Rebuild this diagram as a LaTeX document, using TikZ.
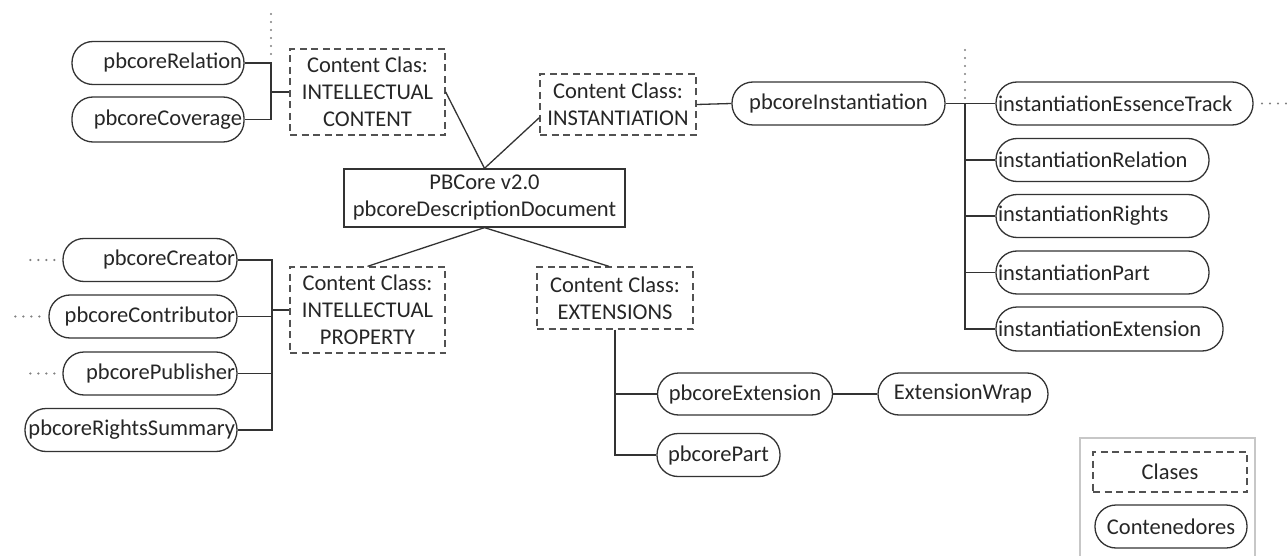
\documentclass[tikz,border=0pt]{standalone}
\usepackage{fontspec}
\setmainfont{Carlito}
\begin{document}
\begin{tikzpicture}[x=1pt, y=-1pt,
  font=\fontsize{22.5}{27}\selectfont,
  linec/.style={draw=black!80},
  pill/.style={linec, line width=1.3pt, rounded corners=21pt, minimum height=43pt,
    inner xsep=2pt, inner ysep=0pt, text=black!85},
  clase/.style={draw=black!68, line width=1.3pt, dash pattern=on 7pt off 4.5pt,
    align=center, inner sep=0pt, text=black!85},
  docbox/.style={linec, line width=1.3pt, align=center, inner sep=0pt, text=black!85},
  conn/.style={draw=black!80, line width=1.3pt},
  dots/.style={draw=black!50, line width=2.4pt, line cap=round, dash pattern=on 0pt off 8pt},
  legendframe/.style={draw=black!22, line width=2pt}]

\useasboundingbox (0,0) rectangle (1287,556);

% root document
\node[docbox, minimum width=281pt, minimum height=58pt] (doc) at (484.5,198)
  {PBCore v2.0\\pbcoreDescriptionDocument};

% content classes
\node[clase, minimum width=155pt, minimum height=86pt] (ic) at (367.5,92)
  {Content Clas:\\INTELLECTUAL\\CONTENT};
\node[clase, minimum width=156pt, minimum height=61pt] (inst) at (618,104.5)
  {Content Class:\\INSTANTIATION};
\node[clase, minimum width=155pt, minimum height=86pt] (ip) at (367.5,310)
  {Content Class:\\INTELLECTUAL\\PROPERTY};
\node[clase, minimum width=156pt, minimum height=62pt] (extc) at (615,298)
  {Content Class:\\EXTENSIONS};

% intellectual content containers
\node[pill, text width=168pt, align=right] (rel) at (158,63) {pbcoreRelation};
\node[pill, text width=168pt, align=right, minimum height=45pt] (cov) at (158,119.5) {pbcoreCoverage};

% intellectual property containers
\node[pill, text width=170pt, align=right] (creator) at (150,260) {pbcoreCreator};
\node[pill, text width=184pt, align=right] (contrib) at (143,316.5) {pbcoreContributor};
\node[pill, text width=170pt, align=right] (publ) at (150,373.5) {pbcorePublisher};
\node[pill, text width=208pt, align=right] (rights) at (131,430) {pbcoreRightsSummary};

% instantiation containers
\node[pill, text width=209pt, align=center] (pbi) at (838.5,103.5) {pbcoreInstantiation};
\node[pill, text width=253pt, align=left] (iet) at (1124.5,103.5) {instantiationEssenceTrack};
\node[pill, text width=209pt, align=left] (irel) at (1102.5,160) {instantiationRelation};
\node[pill, text width=209pt, align=left] (irig) at (1102.5,216) {instantiationRights};
\node[pill, text width=209pt, align=left] (ipart) at (1102.5,272.5) {instantiationPart};
\node[pill, text width=223pt, align=left, minimum height=44pt] (iext) at (1109.5,329) {instantiationExtension};

% extension containers
\node[pill, text width=171pt, align=center, minimum height=42pt] (pbext) at (745,394) {pbcoreExtension};
\node[pill, text width=166pt, align=center, minimum height=42pt] (extwrap) at (963,394) {ExtensionWrap};
\node[pill, text width=119pt, align=center] (pbpart) at (718.5,455) {pbcorePart};

% legend
\draw[legendframe] (1080,556) |- (1255,438) -- (1255,556);
\node[clase, minimum width=154pt, minimum height=40pt] (lclase) at (1170,472) {Clases};
\node[pill, text width=148pt, align=center] (lcont) at (1171,526.5) {Contenedores};

% junction points
\coordinate (jl) at (271,92);
\coordinate (jr) at (272,310);
\coordinate (jt) at (965,103.5);

% links from the root document to the classes
\draw[conn] (ic.east) -- (doc.north);
\draw[conn] (doc.north) -- ([yshift=18pt]inst.south west);
\draw[conn] (doc.south) -- (ip.north);
\draw[conn] (doc.south) -- ([xshift=-6pt]extc.north);

% intellectual content bracket
\draw[conn] (rel.east) -| (jl) |- (cov.east);
\draw[conn] (jl) -- (ic.west);

% intellectual property bracket
\draw[conn] (creator.east) -| (jr) |- (rights.east);
\draw[conn] (contrib.east) -- (contrib.east -| jr);
\draw[conn] (publ.east) -- (publ.east -| jr);
\draw[conn] (jr) -- (ip.west);

% instantiation tree
\draw[conn] (inst.east) -- (pbi.west);
\draw[conn] (pbi.east) -- (iet.west);
\draw[conn] (jt) |- (iext.west);
\draw[conn] (irel.west -| jt) -- (irel.west);
\draw[conn] (irig.west -| jt) -- (irig.west);
\draw[conn] (ipart.west -| jt) -- (ipart.west);

% extensions tree
\draw[conn] (extc.south) |- (pbpart.west);
\draw[conn] (extc.south |- pbext.west) -- (pbext.west);
\draw[conn] (pbext.east) -- (extwrap.west);

% dotted continuations
\coordinate (d1a) at (271,14);  \coordinate (d1b) at (271,54);
\coordinate (d2a) at (965,50);  \coordinate (d2b) at (965,98);
\coordinate (d3a) at (1262,103.5); \coordinate (d3b) at (1287,103.5);
\draw[dots] (d1a) -- (d1b);
\draw[dots] (d2a) -- (d2b);
\draw[dots] (d3a) -- (d3b);
\draw[dots] ([xshift=-8pt]creator.west) -- ([xshift=-36pt]creator.west);
\draw[dots] ([xshift=-9pt]contrib.west) -- ([xshift=-34pt]contrib.west);
\draw[dots] ([xshift=-8pt]publ.west) -- ([xshift=-36pt]publ.west);
\end{tikzpicture}
\end{document}
